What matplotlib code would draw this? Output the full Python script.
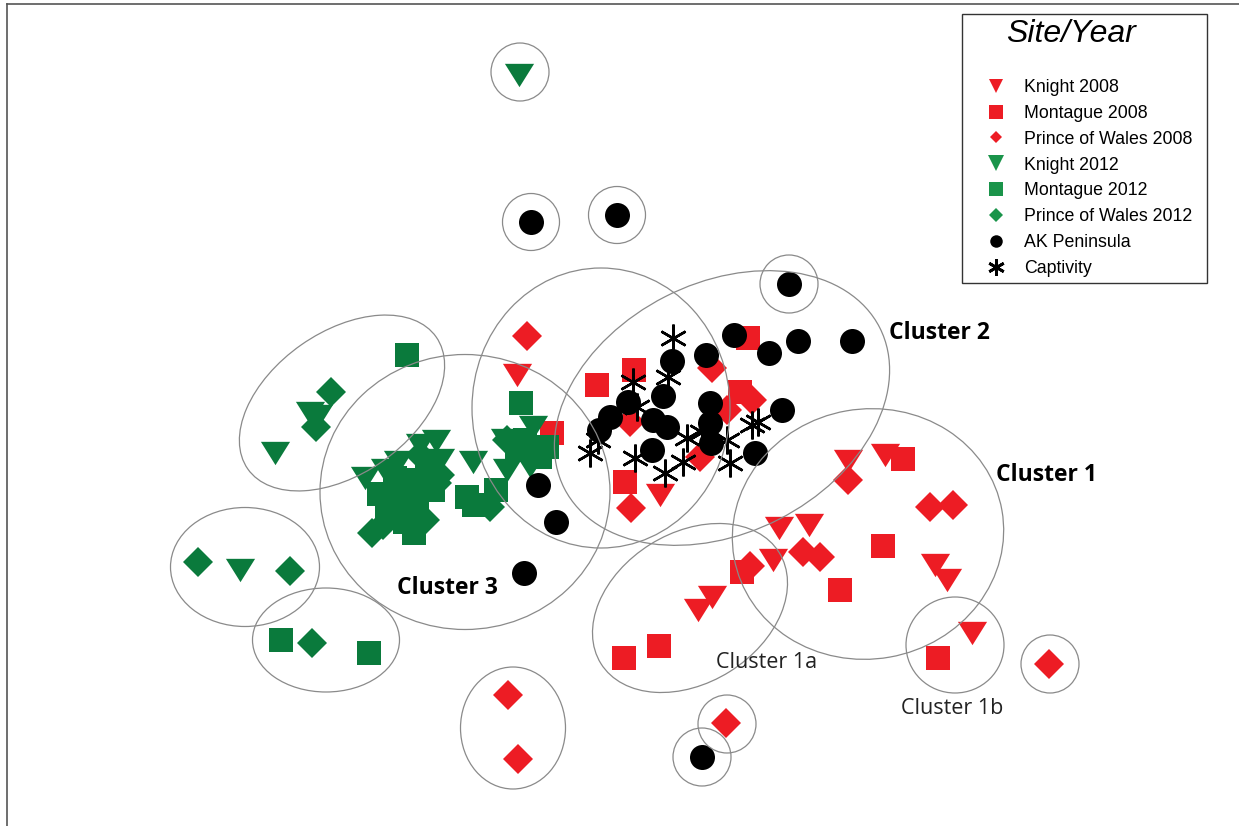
import matplotlib
matplotlib.use("Agg")
import matplotlib.pyplot as plt
from matplotlib.patches import Ellipse, Rectangle
from matplotlib.lines import Line2D
from matplotlib.path import Path

# NMDS ordination scores (plot units, y grows downward)
knight08_x = [517, 660, 848, 885, 779, 809, 773, 935, 947, 712, 698, 972]
knight08_y = [375, 495, 461, 455, 528, 525, 560, 565, 580, 597, 610, 633]
montague08_x = [748, 634, 597, 740, 552, 625, 903, 883, 742, 840, 624, 659, 938]
montague08_y = [338, 370, 385, 392, 433, 482, 459, 546, 572, 590, 658, 646, 658]
pow08_x = [527, 712, 752, 727, 630, 700, 631, 848, 930, 953, 803, 820, 750, 508, 518, 726, 1049]
pow08_y = [336, 368, 400, 410, 422, 457, 508, 480, 507, 505, 552, 557, 566, 695, 759, 723, 664]

knight12_x = [519, 275, 310, 318, 240, 436, 365, 440, 473, 505, 533, 530, 507, 385, 420, 398]
knight12_y = [75, 453, 413, 416, 570, 441, 478, 460, 462, 440, 427, 466, 470, 470, 445, 462]
montague12_x = [407, 521, 281, 369, 379, 414, 410, 427, 433, 400, 387, 417, 467, 474, 496, 517,
                540, 547, 395, 420, 405, 525]
montague12_y = [355, 403, 640, 653, 494, 533, 480, 470, 490, 500, 513, 507, 497, 505, 490, 450,
                457, 447, 478, 488, 522, 440]
pow12_x = [331, 316, 198, 290, 312, 372, 437, 490, 507, 420, 425, 440, 383]
pow12_y = [392, 427, 562, 571, 643, 533, 483, 507, 440, 455, 520, 475, 525]

akpen_x = [531, 617, 789, 734, 706, 672, 769, 798, 852, 782, 663, 628, 610, 599, 653,
           667, 710, 710, 711, 652, 755, 538, 556, 524, 702]
akpen_y = [222, 215, 284, 335, 355, 361, 353, 341, 341, 410, 396, 402, 417, 430, 420,
           427, 403, 423, 443, 450, 453, 485, 522, 573, 757]
captive_x = [673, 668, 633, 590, 598, 635, 665, 683, 687, 730, 752, 758, 637, 702, 727]
captive_y = [338, 377, 382, 453, 440, 458, 473, 462, 438, 463, 425, 422, 407, 432, 440]

# cluster outlines: centre x, centre y, width, height, angle
ell_x = [342, 465, 601, 722, 868, 690, 955, 245, 326, 513, 520, 531, 617, 789, 1050, 727, 702]
ell_y = [403, 492, 408, 408, 534, 608, 645, 567, 640, 728, 72, 222, 215, 284, 664, 724, 757]
ell_w = [230, 290, 258, 354, 272, 210, 98, 149, 147, 105, 58, 57, 57, 58, 58, 58, 58]
ell_h = [142, 275, 280, 250, 250, 150, 96, 119, 104, 122, 58, 57, 57, 58, 58, 58, 58]
ell_a = [-35, 0, 0, -27, -10, -32, 0, 0, 0, 0, 0, 0, 0, 0, 0, 0, 0]

cluster_labels = ["Cluster 2", "Cluster 1", "Cluster 3", "Cluster 1a", "Cluster 1b"]
label_x = [939, 1047, 447, 767, 952]
label_y = [333, 475, 588, 663, 709]
label_bold = [True, True, True, False, False]

legend_labels = ["Knight 2008", "Montague 2008", "Prince of Wales 2008", "Knight 2012",
                 "Montague 2012", "Prince of Wales 2012", "AK Peninsula", "Captivity"]

red = "#ED1C24"
green = "#0A7A3C"
green_leg = "#1A944A"

tri = Path([(-1, 0.8), (1, 0.8), (0, -0.8), (-1, 0.8)],
           [Path.MOVETO, Path.LINETO, Path.LINETO, Path.CLOSEPOLY])
aster = (6, 2, 0)

fig = plt.figure(figsize=(12.39, 8.26), dpi=100)
ax = fig.add_axes([7 / 1239, 0, 1232 / 1239, 822 / 826])
ax.set_xlim(7, 1239)
ax.set_ylim(826, 4)
for side in ["right", "bottom"]:
    ax.spines[side].set_visible(False)
for side in ["top", "left"]:
    ax.spines[side].set_color("#555555")
    ax.spines[side].set_linewidth(1.2)
ax.set_xticks([])
ax.set_yticks([])

ax.plot(knight08_x, knight08_y, ls="none", marker=tri, ms=21, mew=0, color=red, zorder=2)
ax.plot(montague08_x, montague08_y, ls="none", marker="s", ms=17, mew=0, color=red, zorder=2)
ax.plot(pow08_x, pow08_y, ls="none", marker="D", ms=15, mew=0, color=red, zorder=2)
ax.plot(knight12_x, knight12_y, ls="none", marker=tri, ms=21, mew=0, color=green, zorder=3)
ax.plot(montague12_x, montague12_y, ls="none", marker="s", ms=17, mew=0, color=green, zorder=3)
ax.plot(pow12_x, pow12_y, ls="none", marker="D", ms=15, mew=0, color=green, zorder=3)
ax.plot(captive_x, captive_y, ls="none", marker=aster, ms=20, mew=1.8, color="black", zorder=4)
ax.plot(akpen_x, akpen_y, ls="none", marker="o", ms=18, mew=0, color="black", zorder=5)

for cx, cy, w, h, a in zip(ell_x, ell_y, ell_w, ell_h, ell_a):
    ax.add_patch(Ellipse((cx, cy), w, h, angle=a, fill=False, ec="#8a8a8a", lw=0.9, zorder=6))

for txt, tx, ty, bold in zip(cluster_labels, label_x, label_y, label_bold):
    ax.text(tx, ty, txt, ha="center", va="center", family="Open Sans",
            fontsize=16.5 if bold else 15.5, fontweight="bold" if bold else "normal",
            color="black" if bold else "#222222", zorder=7)

# legend box
ax.add_patch(Rectangle((962, 14), 245, 269, fill=False, ec="#333333", lw=1.0, zorder=7))
ax.text(1071, 34, "Site/Year", ha="center", va="center", fontsize=23, style="italic",
        family="Liberation Sans", zorder=8)
handles = [
    Line2D([], [], ls="none", marker="v", ms=10, mew=0, color=red),
    Line2D([], [], ls="none", marker="s", ms=10, mew=0, color=red),
    Line2D([], [], ls="none", marker="D", ms=6, mew=0, color=red),
    Line2D([], [], ls="none", marker="v", ms=11, mew=0, color=green_leg),
    Line2D([], [], ls="none", marker="s", ms=10, mew=0, color=green_leg),
    Line2D([], [], ls="none", marker="D", ms=7, mew=0, color=green_leg),
    Line2D([], [], ls="none", marker="o", ms=9, mew=0, color="black"),
    Line2D([], [], ls="none", marker=aster, ms=12, mew=2.0, color="black"),
]
leg = ax.legend(handles, legend_labels, loc="upper left", bbox_to_anchor=(964, 70),
                bbox_transform=ax.transData, frameon=False, borderpad=0,
                handlelength=2.6, handletextpad=0.3, labelspacing=0.5,
                prop={"family": "Liberation Sans", "size": 12.8})
leg.set_zorder(8)

fig.savefig("out.png", dpi=100)
